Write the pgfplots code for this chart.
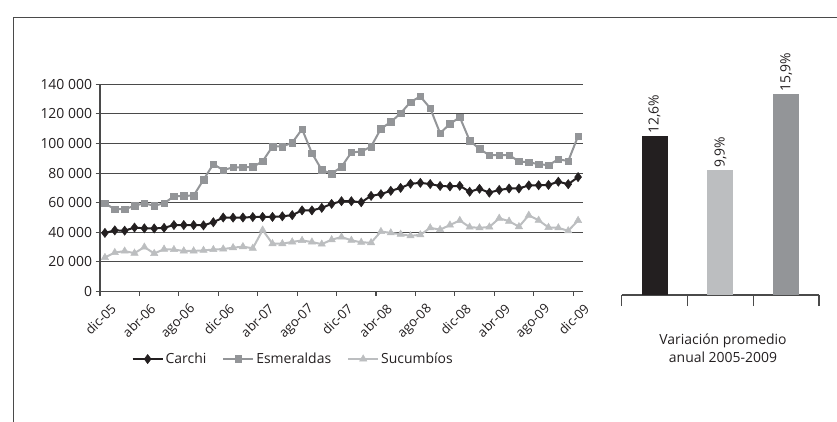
\documentclass[border=0pt]{standalone}
\usepackage{pgfplots}
\pgfplotsset{compat=1.18}
\usepackage{fontspec}
\setmainfont{Open Sans}
\definecolor{cblack}{HTML}{231F20}
\definecolor{cmid}{HTML}{939598}
\definecolor{clight}{HTML}{BCBEC0}
\definecolor{cgrid}{HTML}{4A4A4A}
\newcommand{\tf}{\fontsize{14}{18.5}\selectfont}
\newcommand{\xf}{\fontsize{13.2}{16}\selectfont}
\begin{document}
\begin{tikzpicture}
\path[use as bounding box] (0bp,0bp) rectangle (837bp,422bp);
\draw[cgrid, line width=0.9bp] (13bp,0bp) -- (13bp,404.4bp) -- (837bp,404.4bp);
\begin{axis}[
  at={(100bp,130.5bp)}, anchor=south west,
  scale only axis, width=483bp, height=207.2bp,
  xmin=-0.5, xmax=48.5, ymin=0, ymax=140000,
  axis x line=bottom, axis y line=left,
  axis line style={-, cgrid, line width=1.1bp},
  ytick={0,20000,40000,60000,80000,100000,120000,140000},
  yticklabels={0,20 000,40 000,60 000,80 000,100 000,120 000,140 000},
  ymajorgrids, major grid style={cgrid, line width=1.1bp},
  scaled y ticks=false,
  tick align=outside, major tick length=4.5bp,
  tick style={cgrid, line width=1.1bp},
  xtick={-0.5,3.5,...,47.5}, xticklabels={},
  extra x ticks={0,4,...,48},
  extra x tick labels={dic-05,abr-06,ago-06,dic-06,abr-07,ago-07,dic-07,abr-08,ago-08,dic-08,abr-09,ago-09,dic-09},
  extra x tick style={tick style={draw=none}},
  tick label style={font=\tf, text=cblack},
  xticklabel style={xshift=5bp, yshift=-5bp, rotate=45, anchor=north east, inner sep=1bp, font=\xf},
  legend style={at={(0.40,-0.326)}, anchor=center, draw=none, fill=none,
    legend columns=3, font=\tf, text=cblack,
    /tikz/every even column/.append style={column sep=14bp}},
  legend image code/.code={\draw[mark repeat=2,mark phase=2] plot coordinates {(0bp,0bp) (15bp,0bp) (30bp,0bp)};},
  clip=false,
]
\addplot[cblack, line width=2bp, mark=diamond*, mark size=4.6bp, mark options={fill=cblack, draw=cblack, line width=0.5bp}] table {
x y
0 39600
1 41300
2 41100
3 43200
4 42700
5 42600
6 43000
7 44900
8 44900
9 44900
10 44700
11 46800
12 50000
13 49900
14 50000
15 50300
16 50400
17 50400
18 50800
19 51600
20 54800
21 54800
22 56500
23 59200
24 61000
25 61000
26 60300
27 64600
28 65800
29 68000
30 70000
31 72800
32 73400
33 72600
34 71300
35 71000
36 71400
37 67400
38 69400
39 66800
40 68600
41 69600
42 69600
43 71700
44 71800
45 72000
46 74200
47 72500
48 77300
};
\addplot[cmid, line width=2bp, mark=square*, mark size=3.3bp, mark options={fill=cmid, draw=cmid, line width=0.5bp}] table {
x y
0 59500
1 55600
2 55600
3 57900
4 59600
5 57900
6 59600
7 64300
8 64600
9 64800
10 75500
11 86100
12 82000
13 83900
14 83900
15 84100
16 88000
17 98000
18 98000
19 100500
20 109700
21 93500
22 82100
23 79600
24 84200
25 94000
26 94500
27 97900
28 110000
29 114500
30 120400
31 128000
32 131800
33 123800
34 107000
35 113200
36 117800
37 102000
38 96300
39 92100
40 92100
41 92100
42 88000
43 87200
44 86100
45 85300
46 89400
47 88100
48 105000
};
\addplot[clight, line width=2bp, mark=triangle*, mark size=4.2bp, mark options={fill=clight, draw=clight, line width=0.5bp}] table {
x y
0 23000
1 26300
2 27300
3 25900
4 30000
5 25700
6 28600
7 28300
8 27400
9 27400
10 27800
11 28300
12 28700
13 29600
14 30300
15 29200
16 41500
17 32300
18 32300
19 33500
20 34500
21 33400
22 32000
23 35000
24 36800
25 34600
26 33200
27 33000
28 40500
29 39600
30 38700
31 37600
32 38300
33 43000
34 41800
35 44900
36 48000
37 43500
38 43000
39 43600
40 49500
41 47500
42 43800
43 51500
44 48100
45 43300
46 43000
47 41000
48 48000
};
\legend{Carchi, Esmeraldas, Sucumbíos}
\end{axis}
\begin{axis}[
  at={(621.7bp,127bp)}, anchor=south west,
  scale only axis, width=197.3bp, height=202.4bp,
  xmin=-0.5, xmax=2.5, ymin=0, ymax=16,
  axis y line=none, axis x line=bottom,
  axis line style={-, cgrid, line width=1.1bp},
  xtick={-0.5,0.5,1.5,2.5}, xticklabels={}, ytick=\empty,
  tick align=center, major tick length=11bp,
  tick style={cgrid, line width=1.1bp},
  ybar, bar width=26bp, bar shift=0pt,
  clip=false,
]
\addplot[fill=cblack, draw=none] coordinates {(0,12.6)};
\addplot[fill=clight, draw=none] coordinates {(1,9.9)};
\addplot[fill=cmid, draw=none] coordinates {(2,15.9)};
\node[rotate=90, anchor=west, font=\tf, text=cblack, inner sep=2bp] at (axis cs:0,12.6) {12,6\%};
\node[rotate=90, anchor=west, font=\tf, text=cblack, inner sep=2bp] at (axis cs:1,9.9) {9,9\%};
\node[rotate=90, anchor=west, font=\tf, text=cblack, inner sep=2bp] at (axis cs:2,15.9) {15,9\%};
\end{axis}
\node[align=center, font=\tf, text=cblack] at (723bp,73.5bp) {Variación promedio\\anual 2005-2009};
\end{tikzpicture}
\end{document}
